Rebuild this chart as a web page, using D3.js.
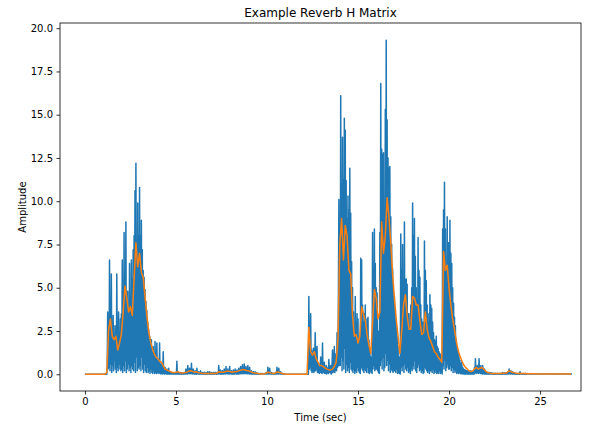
<!DOCTYPE html>
<html>
<head>
<meta charset="utf-8">
<script src="https://cdn.jsdelivr.net/npm/d3@7"></script>
<style>
  html, body { margin: 0; padding: 0; background: #ffffff; }
  svg { display: block; font-family: "DejaVu Sans", sans-serif; }
</style>
</head>
<body>
<svg id="chart" width="597" height="426"></svg>
<script>
// ---- text ----
const chartTitle = "Example Reverb H Matrix";
const xLabel = "Time (sec)";
const yLabel = "Amplitude";

// ---- ticks ----
const xTicks = [0, 5, 10, 15, 20, 25];
const yTicks = [0, 2.5, 5, 7.5, 10, 12.5, 15, 17.5, 20];

// ---- series ----
// raw response magnitude: one row per second, one sample every 0.025 s
const rawStep = 0.025;
const rawRows = [
  [0,0,0,0,0,0,0,0,0,0, 0,0,0,0,0,0,0,0,0,0, 0,0,0,0,0,0,0,0,0,0, 0,0,0,0,0,0,0,0,0,0],
  [0,0,0,0,0,0,0,0,0,0.5, 3.6,0.3,2.5,0.4,6.6,0.2,3.0,0.6,5.8,0.1, 2.0,0.5,3.4,0.2,2.2,0.8,2.8,0.3,2.0,0.1, 5.8,0.4,2.4,0.2,3.6,0.6,2.0,0.3,3.2,0.2],
  [3.5,0.3,6.6,0.1,4.0,0.5,8.2,0.2,5.0,0.8, 8.8,0.1,4.5,0.3,4.8,0.6,3.8,0.2,6.4,0.4, 4.5,0.1,6.6,0.5,5.5,0.3,7.2,0.2,8.0,0.7, 10.6,0.1,12.2,1.0,7.5,0.2,9.9,0.4,8.0,0.3],
  [10.8,0.5,8.0,0.2,8.9,1.0,7.2,0.3,6.0,0.1, 5.6,0.6,4.9,0.2,4.2,0.1,3.7,0.4,3.0,0.1, 2.6,0.2,2.2,0.05,1.8,0.3,2.0,0.1,1.2,0.05, 1.6,0.2,1.0,0.05,1.9,0.1,0.8,0.05,1.8,0.1],
  [0.6,0.05,0.9,0.1,1.8,0.05,0.5,0.02,0.6,0.05, 0.4,0.02,1.3,0.05,0.3,0.02,0.4,0.05,0.2,0.01, 0.3,0.02,0.15,0.01,0.35,0.02,0.1,0.01,0.15,0.02, 0.08,0.01,0.1,0.01,0.06,0.01,0.08,0.01,0.05,0.01],
  [0.1,0.02,0.75,0.02,0.05,0.01,0.1,0.02,0.05,0.01, 0.1,0.02,0.05,0.01,0.08,0.01,0.05,0.01,0.1,0.02, 0.08,0.02,0.3,0.03,0.1,0.02,0.5,0.05,0.15,0.03, 0.35,0.05,0.15,0.03,0.63,0.05,0.1,0.02,0.3,0.03],
  [0.1,0.02,0.2,0.02,0.05,0.01,0.35,0.03,0.08,0.01, 0.15,0.02,0.05,0.01,0.2,0.02,0.06,0.01,0.1,0.01, 0.04,0.01,0.12,0.01,0.04,0.01,0.1,0.01,0.05,0.01, 0.15,0.02,0.05,0.01,0.15,0.02,0.04,0.01,0.1,0.01],
  [0.04,0.01,0.1,0.01,0.04,0.01,0.12,0.01,0.04,0.01, 0.1,0.01,0.08,0.02,0.5,0.03,0.1,0.02,0.25,0.02, 0.1,0.02,0.2,0.02,0.1,0.02,0.3,0.03,0.12,0.02, 0.45,0.04,0.15,0.03,0.3,0.03,0.1,0.02,0.45,0.04],
  [0.1,0.02,0.2,0.02,0.06,0.01,0.25,0.02,0.1,0.02, 0.3,0.03,0.1,0.02,0.25,0.02,0.12,0.02,0.35,0.03, 0.15,0.03,0.45,0.04,0.2,0.03,0.55,0.05,0.2,0.04, 0.6,0.05,0.25,0.04,0.45,0.04,0.2,0.03,0.5,0.04],
  [0.12,0.02,0.4,0.03,0.1,0.02,0.2,0.02,0.05,0.01, 0.15,0.01,0.05,0.01,0.15,0.01,0.04,0.01,0.08,0.01, 0.03,0.01,0.05,0.01,0.02,0.01,0.05,0.01,0.02,0.01, 0.04,0.01,0.02,0.01,0.04,0.01,0.02,0.01,0.1,0.01],
  [0.05,0.01,0.4,0.03,0.1,0.02,0.35,0.03,0.05,0.01, 0.1,0.01,0.04,0.01,0.05,0.01,0.02,0.01,0.1,0.01, 0.05,0.01,0.4,0.03,0.1,0.02,0.35,0.03,0.05,0.01, 0.15,0.01,0.02,0.01,0.05,0.01,0.01,0,0.02,0],
  [0,0,0,0,0,0,0,0,0,0, 0,0,0,0,0,0,0,0,0,0, 0,0,0,0,0,0,0,0,0,0, 0,0,0,0,0,0,0,0,0,0],
  [0,0,0,0,0,0,0,0,0,0, 0,0,4.5,0.3,0.5,1.2,3.5,0.2,1.4,0.1, 0.3,1.0,1.5,0.1,0.2,0.9,2.4,0.2,0.4,1.1, 1.6,0.1,0.1,0.5,0.6,0.05,0.1,0.4,1.0,0.1],
  [0.2,0.05,1.8,0.1,0.1,0.3,0.7,0.05,0.05,0.2, 0.5,0.02,0.1,0.2,0.4,0.05,0.85,0.1,0.1,0.3, 0.5,0.02,0.05,0.6,1.4,0.1,0.2,0.8,1.6,0.1, 0.3,0.9,1.2,0.2,2.4,0.4,0.5,4.7,10.1,0.5],
  [8.0,0.5,16.1,1.0,11.0,0.2,13.7,0.8,11.2,0.3, 14.8,1.5,14.1,0.1,11.2,0.6,9.0,0.2,10.3,0.4, 9.5,0.1,11.9,0.7,9.3,0.3,6.5,0.2,5.0,0.1, 3.6,0.3,1.6,0.05,4.5,0.2,3.0,0.1,3.5,0.4],
  [3.2,0.2,2.0,0.1,1.6,0.05,6.7,0.4,6.6,0.3, 4.0,0.2,3.0,0.1,3.5,0.3,4.0,0.2,2.8,0.1, 3.2,0.4,3.3,0.1,2.0,0.05,1.4,0.2,1.0,0.1, 0.7,0.05,8.2,0.3,6.0,0.5,8.4,0.2,6.4,0.3],
  [5.0,0.3,4.7,0.2,2.5,0.1,0.5,0.05,8.2,0.5, 16.8,0.8,13.0,0.3,12.7,1.0,12.8,0.2,1.0,0.4, 15.3,1.2,19.3,0.5,14.7,0.8,12.5,0.2,11.9,0.6, 12.0,0.1,9.1,0.3,7.5,0.2,6.1,0.1,4.8,0.2],
  [4.5,0.2,3.8,0.1,3.0,0.3,2.2,0.05,1.6,0.1, 1.0,0.05,0.9,0.02,8.1,0.4,6.0,0.2,7.5,0.5, 5.0,0.1,8.8,0.6,5.5,0.3,5.5,0.2,5.2,0.4, 3.5,0.1,3.5,0.2,1.5,0.05,4.0,0.3,5.0,0.2],
  [9.9,0.5,8.0,0.3,9.0,0.8,6.8,0.2,5.0,0.1, 4.3,0.4,7.9,0.6,6.0,0.2,5.6,0.3,4.0,0.1, 3.2,0.2,3.0,0.05,2.6,0.1,7.7,0.4,6.0,0.3, 5.4,0.2,4.0,0.1,3.5,0.2,3.0,0.05,4.6,0.2],
  [4.0,0.2,3.8,0.1,3.0,0.3,2.4,0.05,2.0,0.1, 1.9,0.2,2.2,0.05,1.6,0.1,1.5,0.05,1.3,0.2, 1.2,0.05,1.1,0.1,0.9,0.02,8.4,0.5,9.5,0.3, 11.1,0.8,8.4,0.2,6.0,0.4,9.1,0.6,7.6,0.3],
  [7.6,0.3,8.9,0.5,7.0,0.2,6.4,0.4,5.0,0.1, 4.1,0.3,3.3,0.1,2.8,0.2,2.0,0.05,1.6,0.1, 1.4,0.05,1.0,0.1,0.8,0.03,0.6,0.05,0.7,0.02, 0.4,0.03,0.3,0.02,0.25,0.02,0.25,0.01,0.2,0.02],
  [0.2,0.02,0.15,0.01,0.2,0.02,0.1,0.01,0.2,0.02, 0.1,0.01,0.15,0.02,0.1,0.02,0.4,0.05,0.9,0.1, 0.3,0.05,0.5,0.1,0.4,0.05,0.9,0.1,0.3,0.05, 0.5,0.05,0.2,0.02,0.5,0.05,0.1,0.02,0.3,0.02],
  [0.1,0.01,0.15,0.01,0.08,0.01,0.1,0.01,0.06,0.01, 0.1,0.01,0.05,0.01,0.08,0.01,0.04,0.01,0.05,0.01, 0.04,0.01,0.05,0.01,0.03,0.01,0.06,0.01,0.03,0.01, 0.05,0.01,0.03,0.01,0.05,0.01,0.04,0.01,0.1,0.01],
  [0.05,0.01,0.08,0.01,0.06,0.01,0.1,0.01,0.08,0.02, 0.15,0.02,0.3,0.03,0.1,0.02,0.2,0.03,0.08,0.01, 0.15,0.02,0.06,0.01,0.08,0.01,0.04,0.01,0.05,0.01, 0.03,0.01,0.05,0.01,0.04,0.01,0.15,0.01,0.04,0.01],
  [0.05,0.01,0.03,0.01,0.04,0.01,0.03,0.01,0.05,0.01, 0.03,0.01,0.04,0.01,0.02,0.01,0.03,0.01,0.02,0.01, 0.04,0.01,0.02,0.01,0.03,0.01,0.02,0.01,0.03,0.01, 0.02,0.01,0.03,0.01,0.02,0.01,0.02,0.01,0.02,0.01],
  [0.02,0.01,0.02,0.01,0.02,0.01,0.02,0.01,0.02,0.01, 0.02,0.01,0.02,0.01,0.02,0.01,0.02,0.01,0.02,0.01, 0.02,0.01,0.02,0.01,0.02,0.01,0.02,0.01,0.02,0.01, 0.02,0.01,0.02,0.01,0.02,0.01,0.02,0.01,0.02,0.01],
  [0.02,0.01,0.02,0.01,0.02,0.01,0.02,0.01,0.02,0.01, 0.02,0.01,0.02,0.01,0.02,0.01,0.02,0.01,0.02,0.01, 0.02,0.01,0.02,0.01,0.02,0.01,0.02,0.01,0.02,0.01, 0.02]
];

// smoothed envelope, one sample every 0.1 s (one row per second)
const smoothStep = 0.1;
const smoothAmplitude = [
  0,0,0,0,0,0,0,0,0,0,
  0,0,0.1,2.6,3.2,2.2,2.0,2.2,1.4,1.8,
  2.3,3.6,5.1,4.4,3.6,3.9,3.4,5.5,7.6,6.2,
  7.0,5.9,5.6,4.5,3.4,2.5,1.9,1.5,1.2,1.0,
  0.9,0.75,0.7,0.5,0.3,0.25,0.2,0.15,0.1,0.1,
  0.12,0.15,0.1,0.08,0.08,0.1,0.12,0.18,0.2,0.17,
  0.12,0.15,0.1,0.08,0.06,0.05,0.05,0.05,0.05,0.05,
  0.05,0.05,0.05,0.1,0.15,0.12,0.12,0.15,0.18,0.18,
  0.15,0.12,0.14,0.15,0.18,0.22,0.25,0.28,0.25,0.22,
  0.2,0.15,0.1,0.08,0.06,0.04,0.03,0.02,0.02,0.03,
  0.1,0.12,0.08,0.05,0.04,0.1,0.13,0.1,0.06,0.03,
  0.01,0,0,0,0,0,0,0,0,0,
  0,0,0,2.7,1.3,1.1,1.3,0.9,0.7,0.5,
  0.5,0.45,0.35,0.3,0.25,0.25,0.3,0.45,0.7,2.0,
  7.5,9.0,6.6,8.6,8.0,6.0,5.8,3.4,2.2,2.3,
  1.8,2.2,3.9,3.5,3.1,2.3,1.7,1.2,3.0,4.9,
  4.4,3.2,3.6,8.8,7.0,8.0,10.2,9.1,7.6,5.8,
  4.4,3.2,2.2,1.2,2.5,4.0,4.6,3.4,2.6,2.6,
  4.5,4.4,4.0,4.0,3.1,2.3,2.4,3.6,2.6,2.1,
  1.9,1.6,1.3,1.2,1.0,0.85,0.7,7.1,6.0,6.3,
  5.0,4.0,3.2,2.6,1.9,1.4,1.05,0.8,0.55,0.4,
  0.3,0.2,0.15,0.2,0.3,0.4,0.3,0.35,0.4,0.3,
  0.2,0.12,0.08,0.06,0.05,0.05,0.05,0.05,0.05,0.06,
  0.06,0.07,0.1,0.2,0.15,0.1,0.08,0.06,0.05,0.06,
  0.05,0.04,0.04,0.03,0.03,0.03,0.03,0.03,0.02,0.02,
  0.02,0.02,0.02,0.02,0.02,0.02,0.02,0.02,0.02,0.02,
  0.02,0.02,0.02,0.02,0.02,0.02,0.02,0.02
];

// ---- layout ----
const plot = { left: 60, right: 581, top: 23, bottom: 391 };
const xDomain = [-1.37, 27.25];
const yDomain = [-0.967, 20.3];

const svg = d3.select("#chart");

const x = d3.scaleLinear().domain(xDomain).range([plot.left, plot.right]);
const y = d3.scaleLinear().domain(yDomain).range([plot.bottom, plot.top]);

// each row starts on a whole second
const rawPoints = rawRows.flatMap((row, sec) => row.map((v, j) => [sec + j * rawStep, v]));
const smoothPoints = smoothAmplitude.map((v, i) => [i * smoothStep, v]);

const line = d3.line()
  .x(d => x(d[0]))
  .y(d => y(d[1]));

svg.append("defs").append("clipPath").attr("id", "plot-clip")
  .append("rect")
  .attr("x", plot.left).attr("y", plot.top)
  .attr("width", plot.right - plot.left)
  .attr("height", plot.bottom - plot.top);

const series = svg.append("g").attr("clip-path", "url(#plot-clip)");

series.append("path")
  .datum(rawPoints)
  .attr("fill", "none")
  .attr("stroke", "#1f77b4")
  .attr("stroke-width", 1.5)
  .attr("stroke-linejoin", "round")
  .attr("d", line);

series.append("path")
  .datum(smoothPoints)
  .attr("fill", "none")
  .attr("stroke", "#ff7f0e")
  .attr("stroke-width", 1.5)
  .attr("stroke-linejoin", "round")
  .attr("d", line);

// axes
const xAxis = d3.axisBottom(x)
  .tickValues(xTicks)
  .tickSize(3.5)
  .tickPadding(3.5)
  .tickFormat(d3.format("d"));

const yAxis = d3.axisLeft(y)
  .tickValues(yTicks)
  .tickSize(3.5)
  .tickPadding(3.5)
  .tickFormat(d3.format(".1f"));

const gx = svg.append("g")
  .attr("transform", `translate(0,${plot.bottom})`)
  .call(xAxis);
const gy = svg.append("g")
  .attr("transform", `translate(${plot.left},0)`)
  .call(yAxis);

[gx, gy].forEach(g => {
  g.select(".domain").remove();
  g.selectAll(".tick line").attr("stroke", "#000").attr("stroke-width", 0.8);
  g.selectAll(".tick text")
    .attr("fill", "#000")
    .style("font-family", "'DejaVu Sans', sans-serif")
    .style("font-size", "10px");
});

// frame
svg.append("rect")
  .attr("x", plot.left).attr("y", plot.top)
  .attr("width", plot.right - plot.left)
  .attr("height", plot.bottom - plot.top)
  .attr("fill", "none")
  .attr("stroke", "#000")
  .attr("stroke-width", 0.8);

// title and axis labels
svg.append("text")
  .attr("x", (plot.left + plot.right) / 2)
  .attr("y", 17)
  .attr("text-anchor", "middle")
  .style("font-size", "12px")
  .attr("fill", "#000")
  .text(chartTitle);

svg.append("text")
  .attr("x", (plot.left + plot.right) / 2)
  .attr("y", 421)
  .attr("text-anchor", "middle")
  .style("font-size", "10px")
  .attr("fill", "#000")
  .text(xLabel);

svg.append("text")
  .attr("transform", `translate(26,${(plot.top + plot.bottom) / 2}) rotate(-90)`)
  .attr("text-anchor", "middle")
  .style("font-size", "10px")
  .attr("fill", "#000")
  .text(yLabel);
</script>
</body>
</html>
